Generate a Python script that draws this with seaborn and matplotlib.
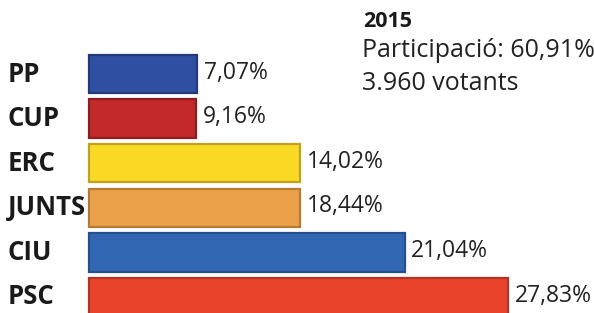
import matplotlib
matplotlib.use("Agg")
import matplotlib.pyplot as plt
import seaborn as sns
import pandas as pd

# ---- data ----
parties = ["PP", "CUP", "ERC", "JUNTS", "CIU", "PSC"]
shares = [7.07, 9.16, 14.02, 18.44, 21.04, 27.83]          # values printed on the chart
bar_lengths = [7.17, 7.10, 14.0, 14.0, 20.95, 27.83]        # bar lengths as drawn in the picture
share_labels = ["7,07%", "9,16%", "14,02%", "18,44%", "21,04%", "27,83%"]
colors = ["#2f4fa3", "#c3282b", "#f9d923", "#eba149", "#3267b4", "#ea432c"]
edge_colors = ["#22397a", "#8f1c1e", "#c2a21a", "#b87a32", "#24508d", "#b53222"]
title_year = "2015"
title_lines = ["Participació: 60,91%", "3.960 votants"]

df = pd.DataFrame({"party": parties, "length": bar_lengths})

sns.set_theme(style="white")
plt.rcParams["font.family"] = ["Open Sans", "DejaVu Sans"]

fig = plt.figure(figsize=(5.94, 3.13), dpi=100)
ax = fig.add_axes([0, 0, 1, 1])

sns.barplot(data=df, y="party", x="length", hue="party",
            palette=dict(zip(parties, colors)), orient="h",
            width=0.86, legend=False, ax=ax, saturation=1)

for patch, ec in zip(ax.patches, edge_colors):
    patch.set_edgecolor(ec)
    patch.set_linewidth(1.6)

px_per_unit = 15.06
ax.set_xlim(-89 / px_per_unit, (594 - 89) / px_per_unit)
ax.set_ylim(5.36, -1.66)
ax.axis("off")

for i, (p, lab, L) in enumerate(zip(parties, share_labels, bar_lengths)):
    ax.text(-81 / px_per_unit, i, p, ha="left", va="center",
            fontsize=18.5, fontweight="bold", color="#1a1a1a")
    ax.text(L + 0.45, i - 0.03, lab, ha="left", va="center",
            fontsize=16.5, color="#222222")

fig.text(363 / 594, 1 - 11 / 313, title_year, ha="left", va="top",
         fontsize=15.5, fontweight="bold", color="#1a1a1a")
fig.text(362 / 594, 1 - 38 / 313, title_lines[0], ha="left", va="top",
         fontsize=18, color="#222222")
fig.text(362 / 594, 1 - 71 / 313, title_lines[1], ha="left", va="top",
         fontsize=18, color="#222222")

fig.savefig("out.png", dpi=100)
